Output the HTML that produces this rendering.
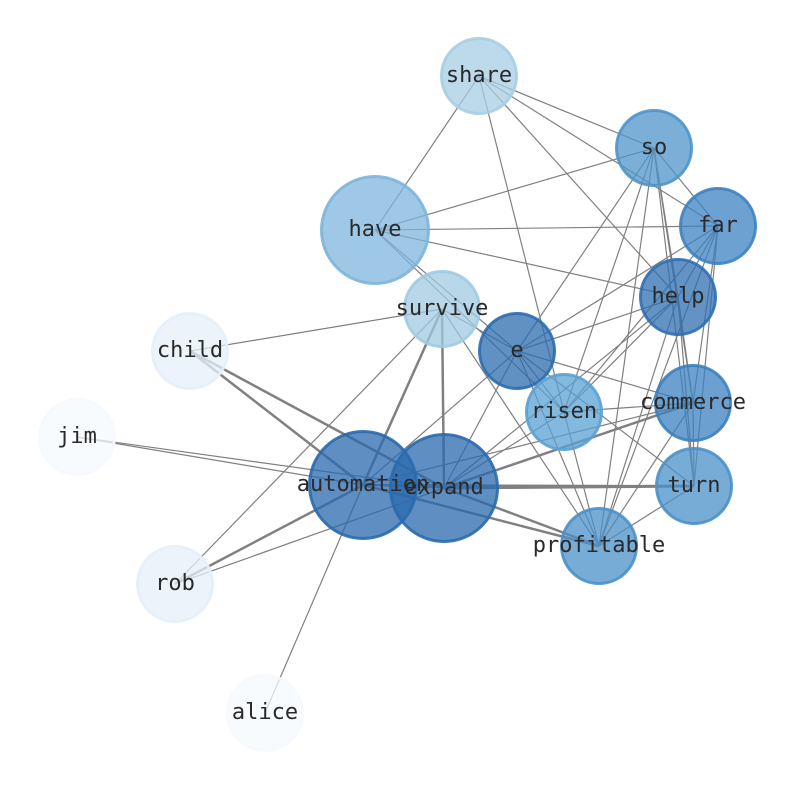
<!DOCTYPE html>
<html><head><meta charset="utf-8"><style>html,body{margin:0;padding:0;background:#fff}svg{display:block}</style></head>
<body>
<svg width="794" height="790" viewBox="0 0 794 790" xmlns="http://www.w3.org/2000/svg">
<g stroke="#808080" stroke-width="1.2" fill="none" id="edges">
</g>
<g id="nodes"></g>
</svg>
<script>
const N={share:[479,76,39,'#a6cee3'],so:[654,148,39,'#4f94cb'],far:[718,226,39,'#3c82c2'],have:[375,230,55,'#7db5dc'],help:[678,297,39,'#2f6fb2'],survive:[442,309,39,'#a0cbe2'],e:[517,351,39,'#2c6cae'],child:[190,351,39,'#e6eff8'],risen:[564,412,39,'#5aa1d3'],commerce:[693,403,39,'#3b80c0'],jim:[77,437,39,'#f5f9fe'],automation:[363,485,55,'#2a6aad'],expand:[444,488,55,'#2a6aad'],turn:[694,486,39,'#4a90c8'],profitable:[599,546,39,'#4a90c8'],rob:[175,584,39,'#e6eff8'],alice:[265,713,39,'#f5f9fe']};
const E=[['share','have'],['share','so'],['share','far'],['share','help'],['share','risen'],
['so','have'],['so','far'],['so','help'],['so','e'],['so','risen'],['so','commerce'],['so','turn'],['so','profitable'],
['far','have'],['far','help'],['far','e'],['far','risen'],['far','commerce'],['far','turn'],['far','profitable'],
['have','help'],['have','e'],['have','risen'],
['help','e'],['help','risen'],['help','commerce'],['help','turn'],['help','profitable'],['help','expand'],
['survive','child'],['survive','automation',2.5],['survive','expand',2.5],['survive','rob'],['survive','profitable'],['survive','e'],
['e','automation'],['e','expand'],['e','commerce'],['e','risen'],['e','profitable'],['e','turn'],
['commerce','expand',2.5],['commerce','automation'],['commerce','risen'],['commerce','profitable'],['commerce','turn'],
['expand','turn',3],['expand','profitable',2.5],['automation','expand'],['risen','expand'],['risen','profitable'],
['automation','child',2.5],['expand','child',2.5],['jim','automation'],['jim','expand'],
['rob','automation',2.5],['rob','expand'],['alice','automation'],['automation','profitable',2.5],['automation','turn',2],['profitable','turn']];
const ns='http://www.w3.org/2000/svg';
const eg=document.getElementById('edges'),ng=document.getElementById('nodes');
for(const [a,b,w] of E){const l=document.createElementNS(ns,'line');const A=N[a],B=N[b];
l.setAttribute('x1',A[0]);l.setAttribute('y1',A[1]);l.setAttribute('x2',B[0]);l.setAttribute('y2',B[1]);
if(w)l.setAttribute('stroke-width',w);eg.appendChild(l);}
for(const k in N){const [x,y,r,c]=N[k];const ci=document.createElementNS(ns,'circle');
ci.setAttribute('cx',x);ci.setAttribute('cy',y);ci.setAttribute('r',r-1.5);ci.setAttribute('fill',c);
ci.setAttribute('fill-opacity',0.75);ng.appendChild(ci);
const o=document.createElementNS(ns,'circle');o.setAttribute('cx',x);o.setAttribute('cy',y);o.setAttribute('r',r-1.5);
o.setAttribute('fill','none');o.setAttribute('stroke',c);o.setAttribute('stroke-width',3);o.setAttribute('stroke-opacity',0.9);ng.appendChild(o);}
for(const k in N){const [x,y]=N[k];const t=document.createElementNS(ns,'text');
t.setAttribute('x',x);t.setAttribute('y',y+6);t.setAttribute('text-anchor','middle');
t.setAttribute('font-family','"DejaVu Sans Mono","Liberation Mono",monospace');t.setAttribute('font-size','22');
t.setAttribute('fill','#2a2a2a');t.textContent=k;ng.appendChild(t);}
</script>
</body></html>
